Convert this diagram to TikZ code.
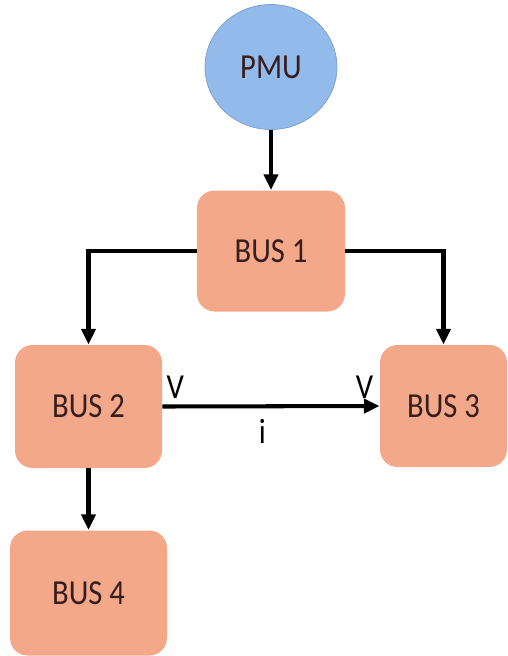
\documentclass[tikz,border=0pt]{standalone}
\usepackage{fontspec}
\setmainfont{Carlito}[FakeStretch=0.87]
\usetikzlibrary{shapes.geometric,arrows.meta}
\definecolor{pmublue}{RGB}{146,186,234}
\definecolor{busfill}{RGB}{243,168,138}
\definecolor{labeltext}{RGB}{55,30,30}

\begin{document}
\begin{tikzpicture}[node_style/.style={ellipse, fill=pmublue, draw=pmublue!85!black, line width=0.4pt,
                                        minimum width=2.64cm, minimum height=2.5cm,
                                        text=labeltext, font=\fontsize{20}{24}\selectfont},
                    bus/.style={rounded corners=10pt, fill=busfill,
                                text=labeltext, font=\fontsize{20}{24}\selectfont},
                    edge_style/.style={-{Triangle[length=9pt,width=8pt]}, draw=black, line width=2.3pt},
                    lbl/.style={font=\fontsize{20}{24}\selectfont, text=black}
   ]
   \useasboundingbox (0,0) rectangle (10.16,-13.12);
   \node[node_style] (pmu) at (5.42,-1.34) {PMU};
   % Buses
   \node[bus, minimum width=2.96cm, minimum height=2.42cm] (b1) at (5.42,-5.02) {BUS 1};
   \node[bus, minimum width=2.94cm, minimum height=2.46cm] (b2) at (1.77,-8.13) {BUS 2};
   \node[bus, minimum width=2.54cm, minimum height=2.44cm] (b3) at (8.87,-8.12) {BUS 3};
   \node[bus, minimum width=3.14cm, minimum height=2.5cm] (b4) at (1.77,-11.86) {BUS 4};

   \draw[edge_style] (pmu) -- (b1);
   \draw[edge_style] (b1.west) -| (b2.north);
   \draw[edge_style] (b1.east) -| (b3.north);
   \draw[edge_style] (b2.east) -- node[lbl, above, pos=0.06]{V}
                                  node[lbl, above, pos=0.93]{V}
                                  node[lbl, below, pos=0.46, yshift=-3pt]{i} (b3.west);
   \draw[edge_style] (b2) -- (b4);
\end{tikzpicture}
\end{document}
